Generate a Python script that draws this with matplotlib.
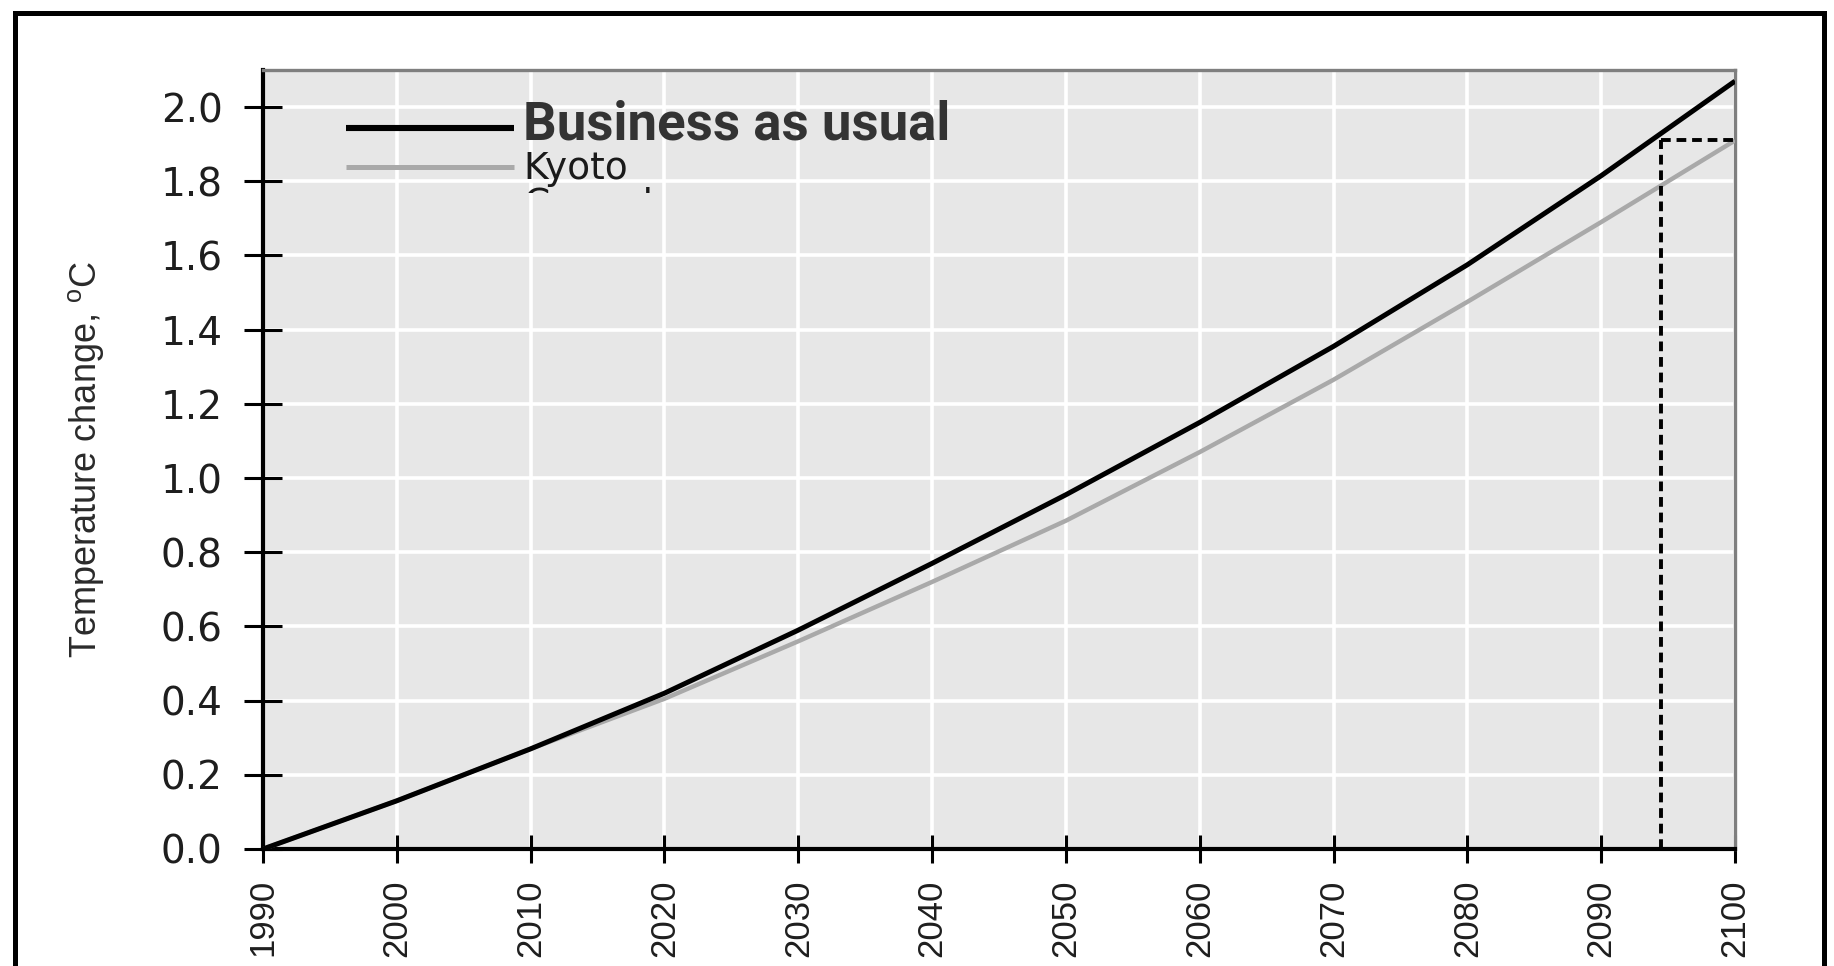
import matplotlib
matplotlib.use("Agg")
import matplotlib.pyplot as plt
from matplotlib.lines import Line2D
from matplotlib.patches import Rectangle
from matplotlib.transforms import Bbox, TransformedBbox

plt.rcParams["font.family"] = ["Liberation Sans", "DejaVu Sans"]
plt.rcParams["mathtext.default"] = "regular"

# Projected warming relative to 1990 (°C)
years = [1990, 2000, 2010, 2020, 2030, 2040, 2050, 2060, 2070, 2080, 2090, 2100]
business_as_usual = [0.00, 0.13, 0.27, 0.42, 0.59, 0.77, 0.955, 1.15, 1.355, 1.575, 1.815, 2.07]
kyoto = [0.00, 0.13, 0.27, 0.405, 0.56, 0.72, 0.885, 1.07, 1.265, 1.475, 1.69, 1.91]

# Year in which the business-as-usual path reaches Kyoto's 2100 warming
delay_year = 2094.5

series_labels = ["Business as usual", "Kyoto", "Copenhagen"]
x_ticks = list(range(1990, 2101, 10))
y_ticks = [0.0, 0.2, 0.4, 0.6, 0.8, 1.0, 1.2, 1.4, 1.6, 1.8, 2.0]
y_label = "Temperature change, $^{o}$C"

W, H = 1834, 966
fig = plt.figure(figsize=(W / 100, H / 100), dpi=100)
fig.patch.set_facecolor("white")

ax_left, ax_right, ax_top, ax_bottom = 263, 1735, 70, 849
ax = fig.add_axes([ax_left / W, 1 - ax_bottom / H,
                   (ax_right - ax_left) / W, (ax_bottom - ax_top) / H])
ax.set_facecolor("#e7e7e7")
ax.set_xlim(1990, 2100)
ax.set_ylim(0, 2.1)
ax.set_axisbelow(True)
ax.grid(True, color="white", linewidth=2.6)

(l_bau,) = ax.plot(years, business_as_usual, color="black", linewidth=3.6,
                   solid_capstyle="butt", solid_joinstyle="round", zorder=4)
(l_kyoto,) = ax.plot(years, kyoto, color="#a9a9a9", linewidth=3.2,
                     solid_capstyle="butt", solid_joinstyle="round", zorder=3)

# Dotted guide: when BAU reaches the Kyoto 2100 level
target = kyoto[-1]
ax.plot([delay_year, delay_year], [0, target], color="black", linewidth=2.8,
        linestyle=(0, (2.5, 1.5)), zorder=5)
ax.plot([delay_year, 2100], [target, target], color="black", linewidth=2.8,
        linestyle=(0, (2.5, 1.5)), zorder=5)

ax.set_xticks(x_ticks)
ax.set_xticklabels([str(y) for y in x_ticks], rotation=90)
ax.set_yticks(y_ticks)
ax.set_yticklabels([f"{v:.1f}" for v in y_ticks], fontfamily="DejaVu Sans")

ax.tick_params(axis="x", direction="inout", length=19.5, width=2.2,
               pad=12, labelsize=25, labelcolor="#1e1e1e", color="black")
ax.tick_params(axis="y", direction="inout", length=28, width=2.2,
               pad=15, labelsize=28, labelcolor="#1e1e1e", color="black")

for side in ("left", "bottom"):
    ax.spines[side].set_color("black")
    ax.spines[side].set_linewidth(3.0)
for side in ("top", "right"):
    ax.spines[side].set_color("#7f7f7f")
    ax.spines[side].set_linewidth(2.4)

ax.set_ylabel(y_label, fontsize=26, color="#2a2a2a", va="center")
ax.yaxis.set_label_coords((86 - ax_left) / (ax_right - ax_left), 0.5)

# Legend
l_third = Line2D([], [], color="#606060", linewidth=3.0)
leg = ax.legend([l_bau, l_kyoto, l_third], series_labels, loc="upper left",
                bbox_to_anchor=(0.0564, 0.9615), frameon=False, fontsize=25,
                handlelength=4.85, handletextpad=0.26, labelspacing=0.0,
                borderpad=0.0, borderaxespad=0.0)
texts = leg.get_texts()
texts[0].set_fontsize(38)
texts[0].set_fontweight("bold")
texts[0].set_fontfamily("Roboto")
texts[0].set_color("#333333")
for t in texts[1:]:
    t.set_fontfamily("DejaVu Sans")
    t.set_fontsize(27)
    t.set_color("#1a1a1a")
handles = leg.legend_handles
handles[0].set_linewidth(4.4)
handles[1].set_linewidth(3.6)

# The last legend row is cut off just under its top edge
clip = TransformedBbox(Bbox([[0, 1 - 193 / H], [1, 1]]), fig.transFigure)
texts[2].set_clip_box(clip)
texts[2].set_clip_on(True)
handles[2].set_clip_box(clip)
handles[2].set_clip_on(True)

# Outer frame around the figure
frame = Rectangle((15 / W, -0.1), (1824 - 15) / W, 1 - 13.5 / H + 0.1,
                  transform=fig.transFigure, fill=False, edgecolor="black",
                  linewidth=3.6, clip_on=False)
fig.add_artist(frame)

fig.savefig("out.png", dpi=100)
